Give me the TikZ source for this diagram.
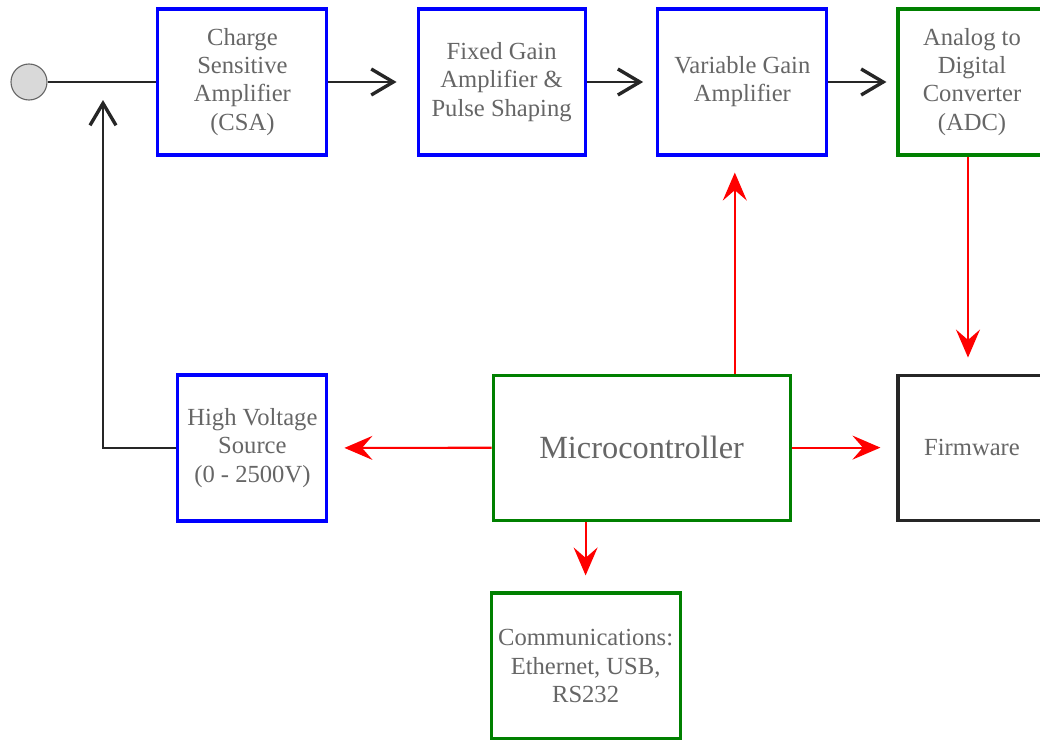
\documentclass[tikz,border=0pt]{standalone}
\usepackage{fontspec}
\setmainfont{Liberation Serif}
\usetikzlibrary{arrows.meta}

\begin{document}
\begin{tikzpicture}
\tikzset{block/.style={draw, line width=2.2pt, fill=white, align=center, text=black!60,
           minimum height=3.65cm, inner sep=2pt, font=\fontsize{17.5}{20}\selectfont},
         bluebox/.style={block, draw=blue},
         greenbox/.style={block, draw=green!50!black},
         plainbox/.style={block, draw=black!85},
         sig/.style={draw=black!85, line width=1.9pt,
           -{Straight Barb[length=5.5mm, width=6.5mm, line width=2.4pt]}},
         ctl/.style={draw=red, line width=1.5pt, shorten >=0.4cm,
           -{Stealth[length=7mm, width=6mm, inset=2.6mm]}}}
\useasboundingbox (0,0) rectangle (26,-18.5);
\node[circle, draw=black!60, fill=black!15, line width=0.8pt, minimum size=0.9cm, inner sep=0pt] (in) at (0.725,-2.05) {};
\node[bluebox, minimum width=4.225cm] (csa) at (6.06,-2.05) {Charge\\Sensitive\\Amplifier\\(CSA)};
\node[bluebox, minimum width=4.175cm] (fix) at (12.54,-2.05) {Fixed Gain\\Amplifier \&\\Pulse Shaping};
\node[bluebox, minimum width=4.225cm] (vga) at (18.56,-2.05) {Variable Gain\\Amplifier};
\node[greenbox, minimum width=3.7cm] (adc) at (24.3,-2.05) {Analog to\\Digital\\Converter\\(ADC)};
\node[bluebox, minimum width=3.725cm] (hv) at (6.31,-11.2) {High Voltage\\Source\\(0 - 2500V)};
\node[greenbox, minimum width=7.425cm, minimum height=3.625cm, font=\fontsize{23}{26}\selectfont] (mcu) at (16.04,-11.19) {Microcontroller};
\node[plainbox, minimum width=3.7cm, minimum height=3.625cm] (fw) at (24.3,-11.19) {Firmware};
\node[greenbox, minimum width=4.725cm] (com) at (14.64,-16.65) {Communications:\\Ethernet, USB,\\RS232};
\coordinate (tap) at (2.575,-2.5);
\draw[draw=black!85, line width=1.9pt] (in) -- (csa);
\draw[sig] (hv.west) -| (tap);
\draw[sig, shorten >=0.5cm] (csa) -- (fix);
\draw[sig, shorten >=0.33cm] (fix) -- (vga);
\draw[sig, shorten >=0.25cm] (vga) -- (adc);
\draw[ctl] ([xshift=-0.1cm]adc.south) -- ([xshift=-0.1cm]fw.north);
\draw[ctl] ([xshift=-0.19cm]vga.south |- mcu.north) -- ([xshift=-0.19cm]vga.south);
\draw[ctl] (mcu) -- (hv);
\draw[ctl] (mcu) -- (fw);
\draw[ctl] (com.north |- mcu.south) -- (com.north);
\end{tikzpicture}
\end{document}
